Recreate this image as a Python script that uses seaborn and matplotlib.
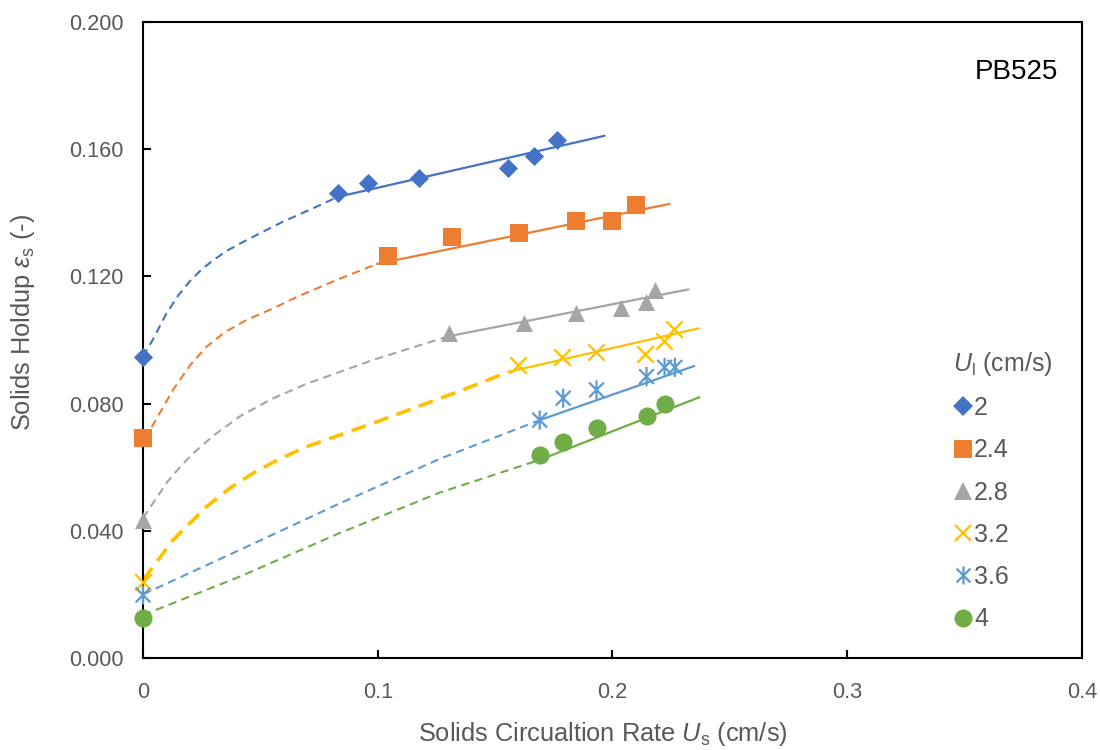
import numpy as np
import pandas as pd
import matplotlib
matplotlib.use("Agg")
import matplotlib.pyplot as plt
from matplotlib.path import Path
from matplotlib.lines import Line2D
import seaborn as sns

# ---------------- data ----------------
labels = ["2", "2.4", "2.8", "3.2", "3.6", "4"]

# measured points
x_2 = [0.0, 0.083, 0.096, 0.1174, 0.1557, 0.1664, 0.1762]
y_2 = [0.0947, 0.1462, 0.1494, 0.1510, 0.1541, 0.1579, 0.1629]
x_24 = [0.0, 0.1043, 0.1315, 0.160, 0.1843, 0.1996, 0.2102]
y_24 = [0.0692, 0.1264, 0.1324, 0.1336, 0.1374, 0.1374, 0.1425]
x_28 = [0.0, 0.1304, 0.1621, 0.1843, 0.2035, 0.2144, 0.2183]
y_28 = [0.0434, 0.1021, 0.1052, 0.1084, 0.1100, 0.1120, 0.1157]
x_32 = [0.0, 0.1598, 0.1785, 0.1928, 0.2140, 0.2221, 0.2260]
y_32 = [0.0240, 0.0921, 0.0948, 0.0963, 0.0956, 0.0998, 0.1034]
x_36 = [0.0, 0.1690, 0.1790, 0.1932, 0.2145, 0.2222, 0.2266]
y_36 = [0.0198, 0.0748, 0.0817, 0.0843, 0.0885, 0.0914, 0.0914]
x_4 = [0.0, 0.1690, 0.1790, 0.1932, 0.2145, 0.2222]
y_4 = [0.0125, 0.0638, 0.0680, 0.0722, 0.0761, 0.0799]

# solid fitted lines (start / end)
fit_x_2 = [0.083, 0.1966];  fit_y_2 = [0.1450, 0.1642]
fit_x_24 = [0.0996, 0.2243]; fit_y_24 = [0.1239, 0.1428]
fit_x_28 = [0.1304, 0.2324]; fit_y_28 = [0.1012, 0.1159]
fit_x_32 = [0.1558, 0.2370]; fit_y_32 = [0.0900, 0.1037]
fit_x_36 = [0.1690, 0.2348]; fit_y_36 = [0.0748, 0.0918]
fit_x_4 = [0.1690, 0.2370];  fit_y_4 = [0.0623, 0.0820]

# dashed extrapolation curves
dash_x_2 = [0.0, 0.0016, 0.0041, 0.0101, 0.0150, 0.020, 0.025, 0.0298, 0.0356, 0.0441, 0.0596, 0.0739, 0.083]
dash_y_2 = [0.0947, 0.0969, 0.1000, 0.1085, 0.1140, 0.1185, 0.1222, 0.1250, 0.1280, 0.1314, 0.1372, 0.1419, 0.1450]
dash_x_24 = [0.0, 0.003, 0.0128, 0.0200, 0.0271, 0.0350, 0.0441, 0.0550, 0.0655, 0.0826, 0.0996]
dash_y_24 = [0.0692, 0.0717, 0.0843, 0.0920, 0.0979, 0.1025, 0.1063, 0.1098, 0.1135, 0.1189, 0.1239]
dash_x_28 = [0.0, 0.0105, 0.0157, 0.0213, 0.0298, 0.0413, 0.0550, 0.0696, 0.0979, 0.1264, 0.1304]
dash_y_28 = [0.0440, 0.0555, 0.0600, 0.0643, 0.0698, 0.0760, 0.0815, 0.0862, 0.0937, 0.1003, 0.1012]
dash_x_32 = [0.0, 0.0128, 0.0271, 0.0377, 0.0484, 0.0583, 0.0696, 0.0979, 0.1191, 0.1362, 0.1558]
dash_y_32 = [0.0245, 0.0371, 0.0476, 0.0538, 0.0588, 0.0626, 0.0664, 0.0738, 0.0796, 0.0843, 0.0900]
dash_x_36 = [0.0, 0.0413, 0.0838, 0.1264, 0.1690]
dash_y_36 = [0.0200, 0.0340, 0.0486, 0.0626, 0.0748]
dash_x_4 = [0.0, 0.0413, 0.0838, 0.1264, 0.1690]
dash_y_4 = [0.0135, 0.0256, 0.0393, 0.0520, 0.0623]

x_ticks = [0, 0.1, 0.2, 0.3, 0.4]
x_tick_labels = ["0", "0.1", "0.2", "0.3", "0.4"]
y_ticks = [0.0, 0.04, 0.08, 0.12, 0.16, 0.20]
y_tick_labels = ["0.000", "0.040", "0.080", "0.120", "0.160", "0.200"]

# ---------------- style ----------------
sns.set_theme(style="white")
plt.rcParams["font.family"] = ["Liberation Sans", "DejaVu Sans"]
plt.rcParams["mathtext.fontset"] = "custom"
plt.rcParams["mathtext.rm"] = "Liberation Sans"
plt.rcParams["mathtext.it"] = "Liberation Sans:italic"

colors = ["#4472C4", "#ED7D31", "#A5A5A5", "#FFC000", "#5B9BD5", "#70AD47"]
grey_txt = "#595959"

star = Path([(-1, -1), (1, 1), (-1, 1), (1, -1), (0, -1.3), (0, 1.3)],
            [Path.MOVETO, Path.LINETO, Path.MOVETO, Path.LINETO, Path.MOVETO, Path.LINETO])
markers = ["D", "s", "^", "x", star, "o"]
msizes = [95, 150, 150, 140, 190, 170]

pts = [(x_2, y_2), (x_24, y_24), (x_28, y_28), (x_32, y_32), (x_36, y_36), (x_4, y_4)]
fits = [(fit_x_2, fit_y_2), (fit_x_24, fit_y_24), (fit_x_28, fit_y_28),
        (fit_x_32, fit_y_32), (fit_x_36, fit_y_36), (fit_x_4, fit_y_4)]
dashes = [(dash_x_2, dash_y_2), (dash_x_24, dash_y_24), (dash_x_28, dash_y_28),
          (dash_x_32, dash_y_32), (dash_x_36, dash_y_36), (dash_x_4, dash_y_4)]

fig = plt.figure(figsize=(11, 7.5), dpi=100)
ax = fig.add_axes([0.13, 0.1227, 0.8536, 0.848])

for i in range(6):
    dx, dy = dashes[i]
    d = pd.DataFrame({"x": dx, "y": dy})
    if i == 3:
        lw, dpat = 2.6, (4.2, 2.4)
    else:
        lw, dpat = 1.5, (4.0, 2.6)
    sns.lineplot(data=d, x="x", y="y", ax=ax, color=colors[i], lw=lw,
                 sort=False, estimator=None, zorder=2)
    ln = ax.lines[-1]
    ln.set_dashes(dpat)
    ln.set_dash_joinstyle("round")
    fx, fy = fits[i]
    f = pd.DataFrame({"x": fx, "y": fy})
    sns.lineplot(data=f, x="x", y="y", ax=ax, color=colors[i], lw=1.6,
                 sort=False, estimator=None, zorder=2)

for i in range(6):
    px, py = pts[i]
    p = pd.DataFrame({"x": px, "y": py})
    if i == 3:
        sns.scatterplot(data=p, x="x", y="y", ax=ax, marker="x", s=msizes[i],
                        color=colors[i], linewidth=1.6, zorder=3, clip_on=False)
    elif i == 4:
        sns.scatterplot(data=p, x="x", y="y", ax=ax, marker=star, s=msizes[i],
                        facecolor="none", edgecolor=colors[i], linewidth=1.6,
                        zorder=3, clip_on=False)
    else:
        sns.scatterplot(data=p, x="x", y="y", ax=ax, marker=markers[i], s=msizes[i],
                        color=colors[i], edgecolor=colors[i], linewidth=0, zorder=3,
                        clip_on=False)

ax.set_xlim(0, 0.4)
ax.set_ylim(0, 0.2)
ax.set_xticks(x_ticks)
ax.set_xticklabels(x_tick_labels)
ax.set_yticks(y_ticks)
ax.set_yticklabels(y_tick_labels)
ax.tick_params(axis="both", direction="in", length=6, width=1.5, color="black",
               labelsize=15.7, labelcolor=grey_txt)
ax.tick_params(axis="x", pad=17)
ax.tick_params(axis="y", pad=14)
ax.tick_params(bottom=True, left=True, top=False, right=False)
for sp in ax.spines.values():
    sp.set_visible(True)
    sp.set_color("black")
    sp.set_linewidth(1.5)

ax.set_xlabel(r"Solids Circualtion Rate $U_\mathrm{s}$ (cm/s)", fontsize=18.3,
              color=grey_txt)
ax.xaxis.set_label_coords(0.49, -0.098)
ax.set_ylabel(r"Solids Holdup $\varepsilon_\mathrm{s}$ (-)", fontsize=18.3,
              color=grey_txt)
ax.yaxis.set_label_coords(-0.113, 0.528)

ax.text(0.975, 0.922, "PB525", transform=ax.transAxes, ha="right", va="center",
        fontsize=20, color="black")

handles = []
for i in range(6):
    if i == 3:
        h = Line2D([], [], ls="none", marker="x", markersize=12, color=colors[i],
                   markeredgewidth=1.6)
    elif i == 4:
        h = Line2D([], [], ls="none", marker=star, markersize=13, color=colors[i],
                   markeredgewidth=1.6)
    else:
        ms = {0: 10, 1: 12.5, 2: 12.5, 5: 13}[i]
        h = Line2D([], [], ls="none", marker=markers[i], markersize=ms, color=colors[i],
                   markeredgewidth=0)
    handles.append(h)
leg = ax.legend(handles, labels, title=r"$U_\mathrm{l}$ (cm/s)", loc="upper left",
                bbox_to_anchor=(0.852, 0.5), frameon=False, fontsize=18,
                title_fontsize=18, labelspacing=0.73, handlelength=0.8,
                handletextpad=0.05, borderaxespad=0)
leg._legend_box.align = "left"
for t in leg.get_texts():
    t.set_color(grey_txt)
leg.get_title().set_color(grey_txt)

fig.savefig("out.png", dpi=100)
